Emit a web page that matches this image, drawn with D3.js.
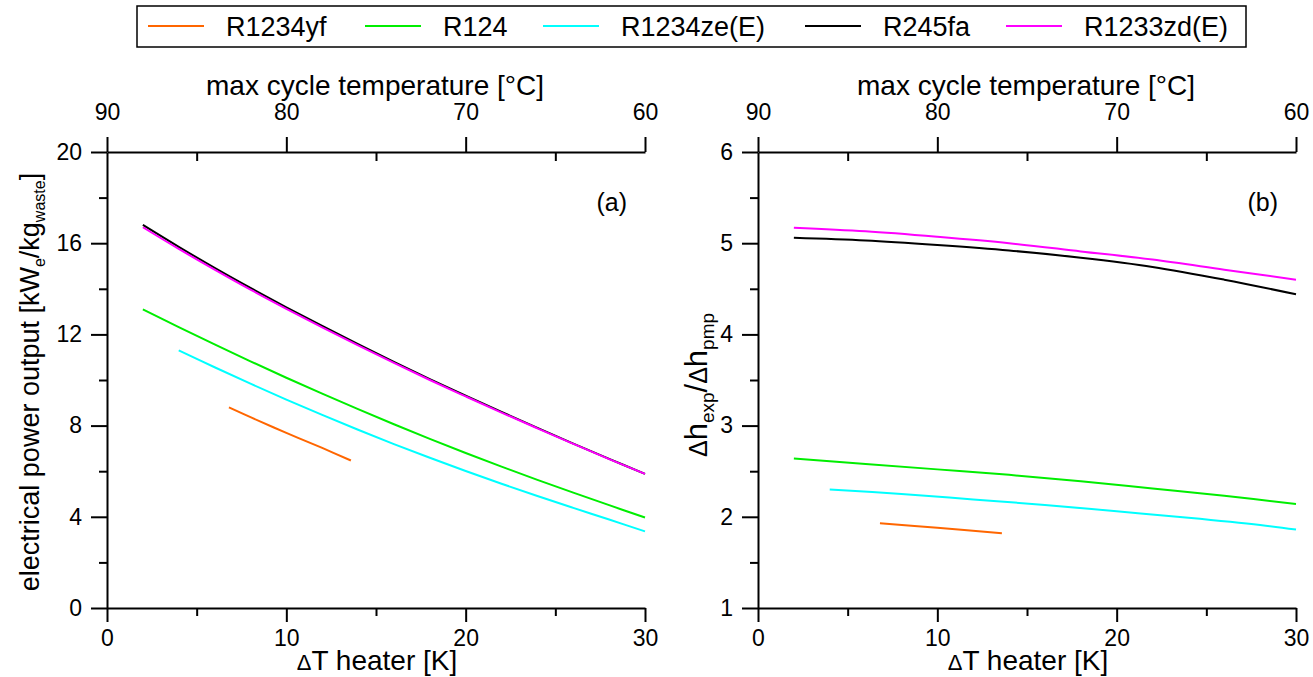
<!DOCTYPE html>
<html>
<head>
<meta charset="utf-8">
<script src="https://cdn.jsdelivr.net/npm/d3@7/dist/d3.min.js"></script>
<style>
  body { margin: 0; background: #fff; }
  svg { font-family: "Liberation Sans", Arial, sans-serif; }
  .tick text { font-size: 23px; fill: #000; }
  .domain, .tick line { stroke: #000; stroke-width: 2px; }
</style>
</head>
<body>
<svg id="chart" width="1313" height="677"></svg>
<script>
// ── Data ────────────────────────────────────────────────────────────────────
var fluids  = ['R1234yf', 'R124', 'R1234ze(E)', 'R245fa', 'R1233zd(E)'];
var colors  = ['#ff6600', '#00ee00', '#00ffff', '#000000', '#ff00ff'];

// ΔT heater [K] grids
var dtYf    = [6.8, 8, 10, 12, 13.6];
var dtFull  = [2, 4, 6, 8, 10, 12, 14, 16, 18, 20, 22, 24, 26, 28, 30];
var dtZe    = [4, 6, 8, 10, 12, 14, 16, 18, 20, 22, 24, 26, 28, 30];

// (a) electrical power output [kWe/kg_waste]
var powYf    = [8.8, 8.37, 7.68, 7.02, 6.47];
var powR124  = [13.1, 12.32, 11.56, 10.82, 10.10, 9.40, 8.72, 8.06, 7.42, 6.80, 6.20, 5.62, 5.06, 4.51, 3.97];
var powZe    = [11.3, 10.56, 9.84, 9.14, 8.47, 7.82, 7.19, 6.59, 6.01, 5.45, 4.91, 4.39, 3.88, 3.36];
var powR245  = [16.8, 15.84, 14.92, 14.04, 13.19, 12.37, 11.57, 10.79, 10.04, 9.31, 8.60, 7.90, 7.21, 6.54, 5.88];
var powZd    = [16.7, 15.75, 14.84, 13.96, 13.12, 12.31, 11.52, 10.75, 10.0, 9.28, 8.57, 7.88, 7.2, 6.53, 5.88];

// (b) Δh_exp / Δh_pmp
var dtB     = [2, 6, 10, 14, 18, 22, 26, 30];
var dtBze   = [4, 8, 12, 16, 20, 24, 28, 30];
var dtByf   = [6.8, 10, 13.6];
var ratYf   = [1.93, 1.88, 1.82];
var ratR124 = [2.64, 2.58, 2.52, 2.46, 2.39, 2.31, 2.23, 2.14];
var ratZe   = [2.30, 2.25, 2.19, 2.13, 2.06, 1.99, 1.91, 1.86];
var ratR245 = [5.06, 5.03, 4.98, 4.92, 4.84, 4.74, 4.60, 4.44];
var ratZd   = [5.17, 5.13, 5.07, 5.00, 4.91, 4.82, 4.71, 4.60];

var xTicks    = [0, 10, 20, 30];
var xMinor    = [5, 15, 25];
var tTicks    = [90, 80, 70, 60];
var tMinor    = [85, 75, 65];
var yTicksA   = [0, 4, 8, 12, 16, 20];
var yMinorA   = [2, 6, 10, 14, 18];
var yTicksB   = [1, 2, 3, 4, 5, 6];
var yMinorB   = [1.5, 2.5, 3.5, 4.5, 5.5];

function pairs(xs, ys) { return xs.map(function (x, i) { return { x: x, y: ys[i] }; }); }

var panels = [
    { left: 107, tag: '(a)', yDomain: [0, 20], yTicks: yTicksA, yMinor: yMinorA,
      series: [pairs(dtYf, powYf), pairs(dtFull, powR124), pairs(dtZe, powZe),
               pairs(dtFull, powR245), pairs(dtFull, powZd)] },
    { left: 758, tag: '(b)', yDomain: [1, 6], yTicks: yTicksB, yMinor: yMinorB,
      series: [pairs(dtByf, ratYf), pairs(dtB, ratR124), pairs(dtBze, ratZe),
               pairs(dtB, ratR245), pairs(dtB, ratZd)] }
];

var svg = d3.select('#chart');
var plotW = 538, plotTop = 152, plotBottom = 608;

panels.forEach(function (p) {
    var g = svg.append('g').attr('transform', 'translate(' + p.left + ',0)');
    var x = d3.scaleLinear().domain([0, 30]).range([0, plotW]);
    var t = d3.scaleLinear().domain([90, 60]).range([0, plotW]);
    var y = d3.scaleLinear().domain(p.yDomain).range([plotBottom, plotTop]);

    // bottom axis: major + minor outward
    g.append('g').attr('transform', 'translate(0,' + plotBottom + ')')
        .call(d3.axisBottom(x).tickValues(xTicks).tickSize(14).tickPadding(8).tickSizeOuter(0));
    g.append('g').attr('transform', 'translate(0,' + plotBottom + ')')
        .call(d3.axisBottom(x).tickValues(xMinor).tickSize(8).tickFormat('').tickSizeOuter(0))
        .select('.domain').remove();

    // top axis: major outward, minor inward
    g.append('g').attr('transform', 'translate(0,' + plotTop + ')')
        .call(d3.axisTop(t).tickValues(tTicks).tickSize(15).tickPadding(17).tickSizeOuter(0));
    g.append('g').attr('transform', 'translate(0,' + plotTop + ')')
        .call(d3.axisBottom(t).tickValues(tMinor).tickSize(9).tickFormat('').tickSizeOuter(0))
        .select('.domain').remove();

    // left axis
    g.append('g')
        .call(d3.axisLeft(y).tickValues(p.yTicks).tickFormat(d3.format('d'))
            .tickSize(16).tickPadding(9).tickSizeOuter(0));
    g.append('g')
        .call(d3.axisLeft(y).tickValues(p.yMinor).tickSize(8).tickFormat('').tickSizeOuter(0))
        .select('.domain').remove();

    var line = d3.line().x(function (d) { return x(d.x); }).y(function (d) { return y(d.y); })
        .curve(d3.curveCatmullRom);
    p.series.forEach(function (s, i) {
        g.append('path').datum(s)
            .attr('fill', 'none').attr('stroke', colors[i]).attr('stroke-width', 2)
            .attr('d', line);
    });

    g.append('text').attr('x', plotW - 18).attr('y', 211).attr('text-anchor', 'end')
        .attr('font-size', 25).text(p.tag);

    g.append('text').attr('x', plotW / 2 - 1).attr('y', 95).attr('text-anchor', 'middle')
        .attr('font-size', 28).text('max cycle temperature [°C]');

    var xl = g.append('text').attr('x', plotW / 2 + 1).attr('y', 670).attr('text-anchor', 'middle')
        .attr('font-size', 28);
    xl.append('tspan').attr('font-size', 22).text('Δ');
    xl.append('tspan').text('T heater [K]');
});

// y-axis titles
var ya = svg.append('text').attr('transform', 'translate(39,382) rotate(-90)')
    .attr('text-anchor', 'middle').attr('font-size', 27);
ya.append('tspan').text('electrical power output [kW');
ya.append('tspan').attr('font-size', 16).attr('dy', 6).text('e');
ya.append('tspan').attr('dy', -6).text('/kg');
ya.append('tspan').attr('font-size', 16).attr('dy', 6).text('waste');
ya.append('tspan').attr('dy', -6).text(']');

var yb = svg.append('text').attr('transform', 'translate(707,385) rotate(-90)')
    .attr('text-anchor', 'middle').attr('font-size', 31);
yb.append('tspan').attr('font-size', 25).text('Δ');
yb.append('tspan').text('h');
yb.append('tspan').attr('font-size', 19).attr('dy', 7).text('exp');
yb.append('tspan').attr('dy', -7).text('/');
yb.append('tspan').attr('font-size', 25).text('Δ');
yb.append('tspan').text('h');
yb.append('tspan').attr('font-size', 19).attr('dy', 7).text('pmp');

// legend
var legX = [148, 365, 543, 805, 1006];
svg.append('rect').attr('x', 137).attr('y', 6).attr('width', 1109).attr('height', 41)
    .attr('fill', 'none').attr('stroke', '#000').attr('stroke-width', 1.5);
fluids.forEach(function (f, i) {
    svg.append('line').attr('x1', legX[i]).attr('x2', legX[i] + 56)
        .attr('y1', 26).attr('y2', 26).attr('stroke', colors[i]).attr('stroke-width', 2);
    svg.append('text').attr('x', legX[i] + 78).attr('y', 36).attr('font-size', 27).text(f);
});
</script>
</body>
</html>
